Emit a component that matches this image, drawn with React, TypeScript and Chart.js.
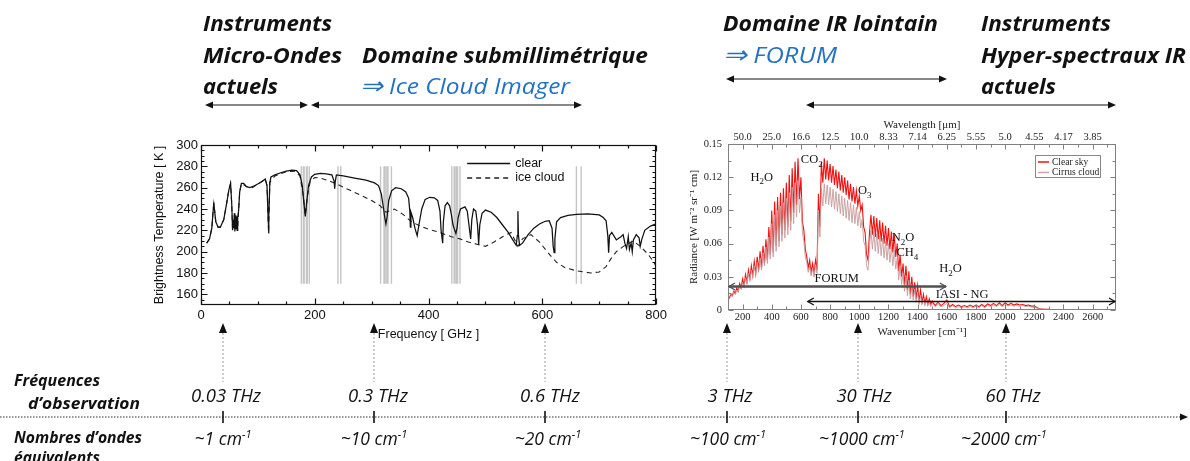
import React, { useEffect, useRef } from "react";
import { Chart, registerables } from "chart.js";
Chart.register(...registerables);

// ---------------- Left chart (micro-waves / sub-mm) ----------------
const CLEAR_FREQ = [10,15,19,21,22.5,24,26,30,34,40,45,49,52,54,55.5,56.5,57.5,58.5,59.5,60.5,61.5,62.5,63.5,64.5,66,68,71,75,80,86,95,105,113,116,118,118.75,119.5,121,123,130,140,150,160,168,174,178,181,183.3,185.5,189,194,200,210,220,230,234,235,236,238,250,270,290,305,312,317,321,323,325,327,330,335,342,352,360,365,367,368,369,372,376,380,383,388,394,402,410,416,420,422,424.8,426,429,433,437,440,443,446,448,450,452,456,464,468,471,474,476,479,483,486,488,490,494,500,510,520,530,540,548,554,556,557,558,560,565,575,585,595,605,612,617,619,620.7,622,625,632,645,660,680,700,707,712,715,716.5,718,722,730,738,742,745,748,751,753,756,758,760,765,770,772,775,780,790,800];
const CLEAR_TB = [208,212,222,236,246,238,228,223,223,230,245,258,264,245,220,230,222,236,219,234,221,233,220,232,238,256,264,264,261,260,262,265,268,262,232,217,232,265,270,272,274,275.5,276.5,276,272,262,245,233,245,262,270,272.5,273.5,273,272,266,259,266,272,271,269,267,264.5,262,254,240,232,226,232,248,257,260,259,256,250,238,223,237,232,222,215,225,240,249,251,250.5,248,238,220,208,228,243,246,243,235,225,220,217,222,232,240,242,238,225,212,230,240,238,225,207,225,236,239,237,232,225,218,211,206,215,238,215,206,208,216,222,226,228.5,229,222,205,199,212,228,232,234,235,235.5,234.5,232,229,215,199,215,218,211,214,216,208,203,214,202,208,200,211,216,213,205,212,220,224,226];
const ICE_FREQ = [10,15,19,21,22.5,24,26,30,34,40,45,49,52,54,55.5,57,60,63,64.5,66,68,71,80,90,105,113,116,118.75,121,130,150,165,174,180,183.3,187,192,200,210,225,240,260,280,300,315,325,340,355,370,385,400,420,440,455,470,485,500,515,530,545,557,565,580,595,610,625,640,660,685,700,712,720,730,745,760,772,785,795,800];
const ICE_TB = [208,212,222,236,245,238,228,223,223,230,245,258,264,245,220,224,222,222,222,238,256,264,261,260,265,268,262,218,265,271,275,275.5,271,252,234,252,266,269.5,269,266.5,263,258,253,248,243,237,240,235,228,224,221,218,214,212,209,207,205,209,214,218,205,212,216,209,199,190,185,182,180,181,186,193,200,206,210,205,198,191,186];
const CHANNEL_FREQ = [176.3,179.9,181.3,185.3,186.7,190.3,240.7,245.7,315.65,321.65,323.65,326.65,328.65,334.65,440.8,445.0,446.6,449.4,451.0,455.2,659.8,668.2];
const CHANNEL_TB_RANGE = [170, 280];
const FREQ_TICKS = [0, 200, 400, 600, 800];
const TB_TICKS = [160, 180, 200, 220, 240, 260, 280, 300];
const LEFT_SERIES = ["clear", "ice cloud"];

// ---------------- Right chart (IR spectrum) ----------------
const NU = [
  100,110,120,130,140,150,160,170,180,190,
  200,210,220,230,240,250,260,270,280,290,
  300,310,320,330,340,350,360,370,380,390,
  400,410,420,430,440,450,460,470,480,490,
  500,510,520,530,540,550,560,570,580,590,
  600,610,620,630,640,650,660,670,680,690,
  700,710,720,730,740,750,760,770,780,790,
  800,810,820,830,840,850,860,870,880,890,
  900,910,920,930,940,950,960,970,980,990,
  1000,1010,1020,1030,1040,1050,1060,1070,1080,1090,
  1100,1110,1120,1130,1140,1150,1160,1170,1180,1190,
  1200,1210,1220,1230,1240,1250,1260,1270,1280,1290,
  1300,1310,1320,1330,1340,1350,1360,1370,1380,1390,
  1400,1410,1420,1430,1440,1450,1460,1470,1480,1490,
  1500,
  1520,1540,1560,1580,1600,1620,1640,1660,1680,1700,
  1720,1740,1760,1780,1800,1820,1840,1860,1880,1900,
  1920,1940,1960,1980,2000,2020,2040,2060,2080,2100,
  2120,2140,2160,2180,2200,2220,2240,2260,
  2300,2400,2500,2600,2760];
const CLEAR_RAD = [
  0.012,0.011,0.014,0.013,0.017,0.015,0.020,0.017,0.024,0.020,
  0.028,0.022,0.032,0.025,0.036,0.028,0.040,0.031,0.044,0.033,
  0.048,0.036,0.053,0.038,0.058,0.042,0.064,0.045,0.075,0.050,
  0.090,0.052,0.098,0.058,0.102,0.062,0.106,0.068,0.110,0.072,
  0.115,0.075,0.122,0.080,0.128,0.088,0.134,0.095,0.137,0.100,
  0.120,0.080,0.072,0.055,0.048,0.038,0.045,0.034,0.042,0.033,
  0.045,0.036,0.105,0.075,0.134,0.115,0.137,0.118,0.135,0.117,
  0.132,0.115,0.130,0.113,0.127,0.110,0.125,0.108,0.122,0.106,
  0.120,0.104,0.117,0.100,0.114,0.098,0.111,0.096,0.108,0.094,
  0.103,0.090,0.095,0.075,0.070,0.050,0.045,0.070,0.086,0.068,
  0.085,0.066,0.083,0.064,0.081,0.062,0.079,0.060,0.076,0.058,
  0.074,0.055,0.071,0.052,0.068,0.048,0.060,0.035,0.050,0.030,
  0.042,0.022,0.040,0.018,0.035,0.014,0.030,0.012,0.025,0.010,
  0.022,0.008,0.018,0.007,0.014,0.006,0.012,0.005,0.010,0.005,
  0.008,
  0.004,0.007,0.004,0.006,0.009,0.003,0.005,0.003,0.0045,0.003,
  0.004,0.003,0.0045,0.003,0.0045,0.003,0.005,0.003,0.0055,0.004,
  0.006,0.004,0.0065,0.004,0.0065,0.0045,0.006,0.0045,0.0055,0.0045,
  0.005,0.004,0.0045,0.0035,0.0035,0.002,0.0012,0.0008,
  0.0006,0.0005,0.0004,0.0004,0.0003];
const CIRRUS_RAD = [
  0.011,0.010,0.013,0.012,0.016,0.014,0.018,0.016,0.022,0.019,
  0.025,0.021,0.029,0.024,0.033,0.027,0.036,0.030,0.040,0.032,
  0.043,0.034,0.047,0.036,0.052,0.040,0.057,0.042,0.066,0.046,
  0.078,0.048,0.086,0.053,0.090,0.057,0.094,0.062,0.097,0.065,
  0.101,0.068,0.106,0.072,0.111,0.078,0.115,0.084,0.117,0.088,
  0.102,0.070,0.062,0.048,0.043,0.034,0.040,0.031,0.038,0.030,
  0.041,0.033,0.090,0.066,0.110,0.094,0.114,0.096,0.113,0.095,
  0.111,0.093,0.109,0.091,0.107,0.089,0.105,0.087,0.103,0.085,
  0.101,0.083,0.099,0.081,0.097,0.079,0.095,0.078,0.093,0.076,
  0.089,0.074,0.082,0.062,0.058,0.040,0.036,0.058,0.072,0.055,
  0.071,0.053,0.069,0.051,0.067,0.049,0.065,0.047,0.062,0.045,
  0.060,0.043,0.057,0.040,0.054,0.037,0.047,0.027,0.040,0.023,
  0.033,0.017,0.031,0.013,0.027,0.010,0.023,0.009,0.019,0.007,
  0.016,0.006,0.013,0.005,0.010,0.004,0.009,0.004,0.007,0.003,
  0.006,
  0.003,0.005,0.003,0.004,0.006,0.002,0.004,0.002,0.003,0.002,
  0.003,0.002,0.003,0.002,0.0035,0.002,0.004,0.002,0.004,0.003,
  0.0045,0.003,0.005,0.003,0.005,0.0035,0.0045,0.0035,0.004,0.0035,
  0.004,0.003,0.0035,0.0025,0.0025,0.0015,0.001,0.0007,
  0.0005,0.0004,0.0004,0.0003,0.0003];
const RIGHT_SERIES = ["Clear sky", "Cirrus cloud"];
const NU_TICKS = [200,400,600,800,1000,1200,1400,1600,1800,2000,2200,2400,2600];
const NU_TICK_LABELS = ["200","400","600","800","1000","1200","1400","1600","1800","2000","2200","2400","2600"];
const WAVELENGTH_LABELS = ["50.0","25.0","16.6","12.5","10.0","8.33","7.14","6.25","5.55","5.0","4.55","4.17","3.85"];
const RAD_TICKS = [0, 0.03, 0.06, 0.09, 0.12, 0.15];
const RAD_TICK_LABELS = ["0","0.03","0.06","0.09","0.12","0.15"];
const GAS_LABELS = ["H_2O","CO_2","O_3","N_2O","CH_4","H_2O"];
const GAS_NU = [332, 674, 1038, 1300, 1330, 1625];
const GAS_RAD = [0.121, 0.137, 0.109, 0.066, 0.053, 0.038];
const INSTR_NAMES = ["FORUM", "IASI - NG"];
const INSTR_FROM = [100, 640];
const INSTR_TO = [1600, 2760];
const INSTR_RAD = [0.022, 0.0085];
const INSTR_LABEL_NU = [845, 1705];
const INSTR_LABEL_RAD = [0.0286, 0.0142];

// ---------------- Page annotations ----------------
const FREQ_LABELS = ["0.03 THz","0.3 THz","0.6 THz","3 THz","30 THz","60 THz"];
const WAVENUM_LABELS = ["~1","~10","~20","~100","~1000","~2000"];

const SANS = '"Liberation Sans", Arial, sans-serif';
const SERIF = '"Liberation Serif", "Times New Roman", serif';
const PAGE_FONT = '"Open Sans", sans-serif';

function range(a: number, b: number, s: number) {
  const out: number[] = [];
  for (let v = a; v <= b + 1e-9; v += s) out.push(+v.toFixed(6));
  return out;
}

function framePlugin(cfg: any) {
  return {
    id: "frameTicks",
    afterDatasetsDraw(chart: any) {
      const { ctx, chartArea } = chart;
      const L = Math.round(chartArea.left) + 0.5, R = Math.round(chartArea.right) - 0.5;
      const T = Math.round(chartArea.top) + 0.5, B = Math.round(chartArea.bottom) - 0.5;
      const xs = chart.scales.x, ys = chart.scales.y;
      ctx.save();
      ctx.strokeStyle = cfg.color;
      ctx.lineWidth = cfg.width;
      ctx.strokeRect(L, T, R - L, B - T);
      ctx.beginPath();
      const xt = (vals: number[], len: number) => vals.forEach((v) => {
        const p = Math.round(xs.getPixelForValue(v)) + 0.5;
        ctx.moveTo(p, B); ctx.lineTo(p, B - len);
        ctx.moveTo(p, T); ctx.lineTo(p, T + len);
      });
      const yt = (vals: number[], len: number) => vals.forEach((v) => {
        const p = Math.round(ys.getPixelForValue(v)) + 0.5;
        ctx.moveTo(L, p); ctx.lineTo(L + len, p);
        ctx.moveTo(R, p); ctx.lineTo(R - len, p);
      });
      xt(cfg.xMajor, cfg.major); xt(cfg.xMinor, cfg.minor);
      yt(cfg.yMajor, cfg.major); yt(cfg.yMinor, cfg.minor);
      ctx.stroke();
      ctx.restore();
    },
  };
}

const leftLegend = {
  id: "leftLegend",
  afterDatasetsDraw(chart: any) {
    const { ctx, chartArea } = chart;
    const { right, top } = chartArea;
    [0, 1].forEach((di, k) => {
      const ds = chart.data.datasets[di];
      const y = top + 18.5 + k * 14.5;
      ctx.save();
      ctx.strokeStyle = ds.borderColor;
      ctx.lineWidth = 1.3;
      ctx.setLineDash(ds.borderDash || []);
      ctx.beginPath(); ctx.moveTo(right - 189, y); ctx.lineTo(right - 146, y); ctx.stroke();
      ctx.setLineDash([]);
      ctx.fillStyle = "#111";
      ctx.font = `12.5px ${SANS}`;
      ctx.textBaseline = "middle";
      ctx.textAlign = "left";
      ctx.fillText(ds.label, right - 141, y);
      ctx.restore();
    });
  },
};

function drawChem(ctx: any, text: string, cx: number, base: number, size: number) {
  const parts: { t: string; sub: boolean }[] = [];
  for (let i = 0; i < text.length; i++) {
    if (text[i] === "_") { parts.push({ t: text[i + 1], sub: true }); i++; }
    else parts.push({ t: text[i], sub: false });
  }
  const big = `${size}px ${SERIF}`, small = `${Math.round(size * 0.7)}px ${SERIF}`;
  let w = 0;
  parts.forEach((p) => { ctx.font = p.sub ? small : big; w += ctx.measureText(p.t).width; });
  let x = cx - w / 2;
  ctx.textAlign = "left"; ctx.textBaseline = "alphabetic";
  parts.forEach((p) => {
    ctx.font = p.sub ? small : big;
    ctx.fillText(p.t, x, p.sub ? base + size * 0.3 : base);
    x += ctx.measureText(p.t).width;
  });
}

const rightAnnot = {
  id: "rightAnnot",
  afterDatasetsDraw(chart: any) {
    const { ctx } = chart;
    const xs = chart.scales.x, ys = chart.scales.y;
    ctx.save();
    ctx.fillStyle = "#111";
    GAS_LABELS.forEach((t, i) => drawChem(ctx, t, xs.getPixelForValue(GAS_NU[i]), ys.getPixelForValue(GAS_RAD[i]) + 4.5, 12.5));
    INSTR_NAMES.forEach((name, i) => {
      const y = Math.round(ys.getPixelForValue(INSTR_RAD[i])) + 0.5;
      const x1 = xs.getPixelForValue(INSTR_FROM[i]) + 1, x2 = xs.getPixelForValue(INSTR_TO[i]) - 1;
      ctx.strokeStyle = i === 0 ? "#505050" : "#151515";
      ctx.lineWidth = i === 0 ? 2.4 : 1.3;
      ctx.beginPath(); ctx.moveTo(x1, y); ctx.lineTo(x2, y); ctx.stroke();
      ctx.lineWidth = 1.3;
      ctx.beginPath();
      ctx.moveTo(x1 + 6, y - 3.5); ctx.lineTo(x1, y); ctx.lineTo(x1 + 6, y + 3.5);
      ctx.moveTo(x2 - 6, y - 3.5); ctx.lineTo(x2, y); ctx.lineTo(x2 - 6, y + 3.5);
      ctx.stroke();
      ctx.fillStyle = "#111";
      ctx.font = `12.5px ${SERIF}`;
      ctx.textAlign = "center"; ctx.textBaseline = "middle";
      ctx.fillText(name, xs.getPixelForValue(INSTR_LABEL_NU[i]), ys.getPixelForValue(INSTR_LABEL_RAD[i]));
    });
    ctx.restore();
  },
};

const rightLegend = {
  id: "rightLegend",
  afterDatasetsDraw(chart: any) {
    const { ctx, chartArea } = chart;
    const { right, top } = chartArea;
    ctx.save();
    ctx.fillStyle = "#fff";
    ctx.strokeStyle = "#888";
    ctx.lineWidth = 1;
    ctx.fillRect(right - 81, top + 11.5, 65, 22);
    ctx.strokeRect(Math.round(right - 81) + 0.5, Math.round(top + 11) + 0.5, 65, 22);
    const order = [1, 0];
    order.forEach((di, k) => {
      const ds = chart.data.datasets[di];
      const y = top + 18 + k * 10.5;
      ctx.strokeStyle = ds.borderColor;
      ctx.lineWidth = 1.5;
      ctx.beginPath(); ctx.moveTo(right - 78, y); ctx.lineTo(right - 67, y); ctx.stroke();
      ctx.fillStyle = "#222";
      ctx.font = `9.5px ${SERIF}`;
      ctx.textAlign = "left"; ctx.textBaseline = "middle";
      ctx.fillText(ds.label, right - 64, y);
    });
    ctx.restore();
  },
};

const NO_GRID = { display: false, drawTicks: false, tickLength: 0 };

function leftConfig(): any {
  const channelPts: any[] = [];
  CHANNEL_FREQ.forEach((f) => {
    channelPts.push({ x: f, y: CHANNEL_TB_RANGE[0] }, { x: f, y: CHANNEL_TB_RANGE[1] }, { x: f, y: null });
  });
  const tickFont = { family: SANS, size: 13 };
  return {
    type: "line",
    data: {
      datasets: [
        { label: LEFT_SERIES[0], data: CLEAR_FREQ.map((f, i) => ({ x: f, y: CLEAR_TB[i] })), borderColor: "#111", borderWidth: 1.25, pointRadius: 0, tension: 0 },
        { label: LEFT_SERIES[1], data: ICE_FREQ.map((f, i) => ({ x: f, y: ICE_TB[i] })), borderColor: "#222", borderWidth: 1.1, borderDash: [5, 4], pointRadius: 0, tension: 0 },
        { label: "channels", data: channelPts, borderColor: "rgba(150,150,150,0.55)", borderWidth: 1.4, pointRadius: 0, spanGaps: false },
      ],
    },
    options: {
      animation: false,
      responsive: false,
      events: [],
      layout: { padding: { top: 15, right: 11, left: 0, bottom: 0 } },
      plugins: { legend: { display: false }, tooltip: { enabled: false } },
      scales: {
        x: {
          type: "linear", min: 0, max: 800,
          grid: NO_GRID, border: { display: false },
          afterBuildTicks: (s: any) => { s.ticks = FREQ_TICKS.map((v) => ({ value: v })); },
          afterFit: (s: any) => { s.height = 50; },
          ticks: { autoSkip: false, maxRotation: 0, padding: 3, color: "#111", font: tickFont },
          title: { display: true, text: "Frequency [ GHz ]", color: "#111", font: { family: SANS, size: 12.5 }, padding: { top: 0, bottom: 12.5 } },
        },
        y: {
          type: "linear", min: 150, max: 300,
          grid: NO_GRID, border: { display: false },
          afterBuildTicks: (s: any) => { s.ticks = TB_TICKS.map((v) => ({ value: v })); },
          afterFit: (s: any) => { s.width = 51; },
          ticks: { autoSkip: false, padding: 3, color: "#111", font: tickFont },
          title: { display: true, text: "Brightness Temperature [ K ]", color: "#111", font: { family: SANS, size: 12.5 }, padding: { top: 2.5, bottom: 0 } },
        },
      },
    },
    plugins: [
      framePlugin({ color: "#111", width: 1.2, major: 6, minor: 3, xMajor: FREQ_TICKS, xMinor: range(50, 750, 50), yMajor: TB_TICKS, yMinor: range(155, 295, 5) }),
      leftLegend,
    ],
  };
}

function rightConfig(): any {
  const tickFont = { family: SERIF, size: 10.5 };
  return {
    type: "line",
    data: {
      datasets: [
        { label: RIGHT_SERIES[1], data: NU.map((v, i) => ({ x: v, y: CIRRUS_RAD[i] })), borderColor: "rgba(200,155,155,0.9)", borderWidth: 1, pointRadius: 0, tension: 0 },
        { label: RIGHT_SERIES[0], data: NU.map((v, i) => ({ x: v, y: CLEAR_RAD[i] })), borderColor: "#f21010", borderWidth: 1.1, pointRadius: 0, tension: 0 },
      ],
    },
    options: {
      animation: false,
      responsive: false,
      events: [],
      layout: { padding: { top: 0, right: 14, left: 0, bottom: 0 } },
      plugins: { legend: { display: false }, tooltip: { enabled: false } },
      scales: {
        x: {
          type: "linear", position: "bottom", min: 100, max: 2760,
          grid: NO_GRID, border: { display: false },
          afterBuildTicks: (s: any) => { s.ticks = NU_TICKS.map((v) => ({ value: v })); },
          afterFit: (s: any) => { s.height = 36; },
          ticks: { autoSkip: false, maxRotation: 0, padding: 1, color: "#222", font: tickFont, callback: (_v: any, i: number) => NU_TICK_LABELS[i] },
          title: { display: true, text: "Wavenumber [cm\u207B\u00B9]", color: "#222", font: { family: SERIF, size: 11 }, padding: { top: 0, bottom: 7.7 } },
        },
        x2: {
          type: "linear", axis: "x", position: "top", min: 100, max: 2760,
          grid: NO_GRID, border: { display: false },
          afterBuildTicks: (s: any) => { s.ticks = NU_TICKS.map((v) => ({ value: v })); },
          afterFit: (s: any) => { s.height = 28; },
          ticks: { autoSkip: false, maxRotation: 0, padding: 0.5, color: "#222", font: tickFont, callback: (_v: any, i: number) => WAVELENGTH_LABELS[i] },
          title: { display: true, text: "Wavelength [\u03BCm]", color: "#222", font: { family: SERIF, size: 11 }, padding: { top: 2.4, bottom: 0 } },
        },
        y: {
          type: "linear", min: 0, max: 0.15,
          grid: NO_GRID, border: { display: false },
          afterBuildTicks: (s: any) => { s.ticks = RAD_TICKS.map((v) => ({ value: v })); },
          afterFit: (s: any) => { s.width = 48; },
          ticks: { autoSkip: false, padding: 6, color: "#222", font: tickFont, callback: (_v: any, i: number) => RAD_TICK_LABELS[i] },
          title: { display: true, text: "Radiance [W m\u207B\u00B2 sr\u207B\u00B9 cm]", color: "#222", font: { family: SERIF, size: 11 }, padding: { top: 8, bottom: 0 } },
        },
      },
    },
    plugins: [
      framePlugin({ color: "#808080", width: 1, major: 5, minor: 3, xMajor: NU_TICKS, xMinor: range(100, 2700, 200), yMajor: RAD_TICKS, yMinor: range(0.015, 0.135, 0.03) }),
      rightAnnot,
      rightLegend,
    ],
  };
}

function HArrow({ x1, x2, y }: { x1: number; x2: number; y: number }) {
  return (
    <g>
      <line x1={x1 + 6} y1={y} x2={x2 - 6} y2={y} stroke="#111" strokeWidth={1} />
      <polygon points={`${x1},${y} ${x1 + 8},${y - 3.5} ${x1 + 8},${y + 3.5}`} fill="#111" />
      <polygon points={`${x2},${y} ${x2 - 8},${y - 3.5} ${x2 - 8},${y + 3.5}`} fill="#111" />
    </g>
  );
}

const ARROW_X = [223, 374, 545, 727, 858, 1006];
const LABEL_X = [226, 378, 550, 730, 864, 1013];
const WN_X = [223, 374, 548, 728, 862, 1004];

export default function App() {
  const leftRef = useRef<HTMLCanvasElement>(null);
  const rightRef = useRef<HTMLCanvasElement>(null);
  useEffect(() => {
    const c1 = new Chart(leftRef.current as HTMLCanvasElement, leftConfig());
    const c2 = new Chart(rightRef.current as HTMLCanvasElement, rightConfig());
    return () => { c1.destroy(); c2.destroy(); };
  }, []);

  const bold: any = { fontFamily: PAGE_FONT, fontStyle: "italic", fontWeight: 700 };
  const ital: any = { fontFamily: PAGE_FONT, fontStyle: "italic", fontWeight: 400 };
  const blue = "#2272c3";
  const SG = "spacingAndGlyphs";

  return (
    <div style={{ position: "absolute", left: 0, top: 0, width: 1190, height: 461, background: "#fff", overflow: "hidden" }}>
      <canvas ref={leftRef} width={520} height={225} style={{ position: "absolute", left: 150, top: 130 }} />
      <canvas ref={rightRef} width={450} height={230} style={{ position: "absolute", left: 680, top: 116 }} />
      <svg width={1190} height={461} style={{ position: "absolute", left: 0, top: 0, pointerEvents: "none" }}>
        {/* top headings */}
        <g style={bold} fontSize={21} fill="#111">
          <text x={203} y={31} textLength={129} lengthAdjust={SG}>Instruments</text>
          <text x={203} y={63} textLength={139} lengthAdjust={SG}>Micro-Ondes</text>
          <text x={203} y={94} textLength={75} lengthAdjust={SG}>actuels</text>
          <text x={362} y={63} textLength={286} lengthAdjust={SG}>Domaine submillimétrique</text>
          <text x={723} y={31} textLength={215} lengthAdjust={SG}>Domaine IR lointain</text>
          <text x={981} y={31} textLength={130} lengthAdjust={SG}>Instruments</text>
          <text x={981} y={63} textLength={205} lengthAdjust={SG}>Hyper-spectraux IR</text>
          <text x={981} y={94} textLength={75} lengthAdjust={SG}>actuels</text>
        </g>
        <g style={ital} fontSize={21.5} fill={blue}>
          <text x={360} y={94} textLength={210} lengthAdjust={SG}><tspan fontSize={24}>⇒</tspan> Ice Cloud Imager</text>
          <text x={723} y={63} textLength={114} lengthAdjust={SG}><tspan fontSize={24}>⇒</tspan> FORUM</text>
        </g>
        <HArrow x1={205} x2={308} y={105} />
        <HArrow x1={311} x2={582} y={105} />
        <HArrow x1={726} x2={947} y={79} />
        <HArrow x1={806} x2={1116} y={105} />

        {/* vertical pointers */}
        {ARROW_X.map((x, i) => (
          <g key={"va" + i}>
            <line x1={x} y1={333} x2={x} y2={382} stroke="#9a9a9a" strokeWidth={1} strokeDasharray="2 2" />
            <polygon points={`${x},${323} ${x - 4},${333} ${x + 4},${333}`} fill="#111" />
          </g>
        ))}

        {/* bottom axis */}
        <line x1={0} y1={417} x2={1181} y2={417} stroke="#333" strokeWidth={1.2} strokeDasharray="1.5 1.5" />
        <polygon points="1188,417 1180,413.5 1180,420.5" fill="#111" />
        {ARROW_X.map((x, i) => (
          <line key={"tk" + i} x1={x} y1={411} x2={x} y2={423} stroke="#111" strokeWidth={1.6} />
        ))}
        <g style={bold} fontSize={15.5} fill="#111">
          <text x={14} y={386} textLength={86} lengthAdjust={SG}>Fréquences</text>
          <text x={28} y={409} textLength={112} lengthAdjust={SG}>d’observation</text>
          <text x={14} y={443} textLength={128} lengthAdjust={SG}>Nombres d’ondes</text>
          <text x={14} y={463} textLength={86} lengthAdjust={SG}>équivalents</text>
        </g>
        <g style={ital} fontSize={18.5} fill="#111" textAnchor="middle">
          {FREQ_LABELS.map((t, i) => (
            <text key={"fl" + i} x={LABEL_X[i]} y={402}>{t}</text>
          ))}
        </g>
        <g style={ital} fontSize={17.5} fill="#111" textAnchor="middle">
          {WAVENUM_LABELS.map((t, i) => (
            <text key={"wl" + i} x={WN_X[i]} y={445}>
              {t} cm<tspan dy={-7} fontSize={11}>-1</tspan>
            </text>
          ))}
        </g>
      </svg>
    </div>
  );
}
